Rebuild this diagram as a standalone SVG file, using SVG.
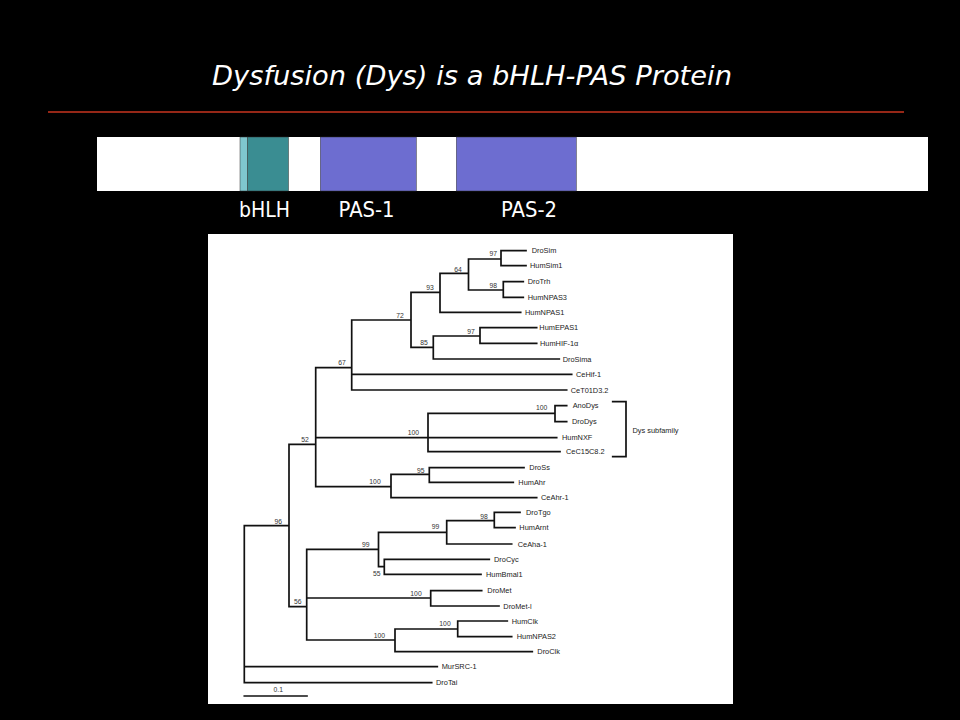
<svg xmlns="http://www.w3.org/2000/svg" width="960" height="720" viewBox="0 0 960 720">
<style>
.title{font-family:"DejaVu Sans",Verdana,sans-serif;font-style:italic;font-size:27px;fill:#ffffff}
.dom{font-family:"DejaVu Sans",Verdana,sans-serif;font-size:20.5px;fill:#ffffff;text-anchor:middle}
.br{fill:none;stroke:#111;stroke-width:1.7;stroke-linecap:square}
.leaf{font-family:"Liberation Sans",Arial,sans-serif;font-size:7.4px;fill:#222}
.bs{font-family:"Liberation Sans",Arial,sans-serif;font-size:6.8px;fill:#333;text-anchor:middle}
</style>
<rect x="0" y="0" width="960" height="720" fill="#000"/>
<g id="title">
<text class="title" x="212" y="85" textLength="520" lengthAdjust="spacingAndGlyphs">Dysfusion (Dys) is a bHLH-PAS Protein</text>
<line x1="48" y1="112" x2="904" y2="112" stroke="#c8341f" stroke-width="1.3"/>
</g>
<g id="protein">
<rect x="97" y="137" width="831" height="54" fill="#fff"/>
<rect id="bhlh-basic" x="240" y="137" width="7.5" height="54" fill="#7fc7cf" stroke="#333" stroke-width="0.5"/>
<rect id="bhlh" x="247.5" y="137" width="41" height="54" fill="#3a8d92" stroke="#333" stroke-width="0.5"/>
<rect id="pas1" x="320.3" y="137" width="96" height="54" fill="#6d6dd0" stroke="#333" stroke-width="0.5"/>
<rect id="pas2" x="456.3" y="137" width="120" height="54" fill="#6d6dd0" stroke="#333" stroke-width="0.5"/>
<text class="dom" x="264.5" y="217" textLength="51" lengthAdjust="spacingAndGlyphs">bHLH</text>
<text class="dom" x="366.6" y="217" textLength="56" lengthAdjust="spacingAndGlyphs">PAS-1</text>
<text class="dom" x="529" y="217" textLength="56" lengthAdjust="spacingAndGlyphs">PAS-2</text>
</g>
<rect x="208" y="234" width="525" height="470" fill="#fff"/>
<g id="connectors">
<path class="br" d="M244.3 525.7 V682.7 M244.3 525.7 H289 M289 444.3 V606.7 M289 444.3 H315.7 M315.7 367.7 V486.7
M315.7 367.7 H351.7 M351.7 320 V390 M351.7 320 H411 M411 292.3 V347.3 M411 292.3 H440 M440 273.3 V312.3
M440 273.3 H468.5 M468.5 259 V290 M468.5 259 H501 M501 250.7 V265.7 M501 250.7 H526 M501 265.7 H526
M468.5 290 H503.3 M503.3 281.7 V297.3 M503.3 281.7 H523.3 M503.3 297.3 H523.3
M440 312.3 H520.7
M411 347.3 H433.3 M433.3 336 V359 M433.3 336 H480 M480 327.7 V343.3 M480 327.7 H536.7 M480 343.3 H536.7
M433.3 359 H559.3
M351.7 374.3 H571.7 M351.7 390 H566.7
M315.7 437.7 H428 M428 413.3 V451.7 M428 413.3 H555 M555 405.7 V421.7 M555 405.7 H566.7 M555 421.7 H566.7
M428 437.7 H556.7 M428 451.7 H560
M315.7 486.7 H391 M391 474.3 V497.7 M391 474.3 H429.3 M429.3 467.7 V482.3 M429.3 467.7 H524 M429.3 482.3 H513.3
M391 497.7 H536.7
M289 606.7 H306.7 M306.7 549.3 V640
M306.7 549.3 H378.5 M378.5 532.3 V566.7 M378.5 532.3 H446.7 M446.7 520.7 V544 M446.7 520.7 H494.3
M494.3 512.3 V527.7 M494.3 512.3 H520 M494.3 527.7 H515 M446.7 544 H511.7
M378.5 566.7 H384.3 M384.3 559.3 V574.3 M384.3 559.3 H489.3 M384.3 574.3 H481
M306.7 598 H430.7 M430.7 590.7 V606 M430.7 590.7 H481.7 M430.7 606 H499
M306.7 640 H395 M395 629 V651.7 M395 629 H457.7 M457.7 621 V636.7 M457.7 621 H507.3 M457.7 636.7 H511.7
M395 651.7 H532.3
M244.3 666.7 H437.3 M244.3 682.7 H431.7"/>
<path class="br" d="M612.7 401.7 H626 V456.7 H612.7"/>
<path class="br" d="M244.3 696 H307"/>
</g>
<g id="leaves">
<text class="leaf" x="531.7" y="253.2">DroSim</text>
<text class="leaf" x="530" y="268.2">HumSim1</text>
<text class="leaf" x="527.7" y="284.2">DroTrh</text>
<text class="leaf" x="527.7" y="299.8">HumNPAS3</text>
<text class="leaf" x="525" y="314.8">HumNPAS1</text>
<text class="leaf" x="539.3" y="330.2">HumEPAS1</text>
<text class="leaf" x="540" y="345.8">HumHIF-1α</text>
<text class="leaf" x="562.7" y="361.5">DroSima</text>
<text class="leaf" x="576" y="376.8">CeHif-1</text>
<text class="leaf" x="570.7" y="392.5">CeT01D3.2</text>
<text class="leaf" x="572.7" y="408.2">AnoDys</text>
<text class="leaf" x="572" y="424.2">DroDys</text>
<text class="leaf" x="562" y="440.2">HumNXF</text>
<text class="leaf" x="566" y="453.5">CeC15C8.2</text>
<text class="leaf" x="632.5" y="432.5">Dys subfamily</text>
<text class="leaf" x="529.3" y="470.2">DroSs</text>
<text class="leaf" x="518.3" y="484.8">HumAhr</text>
<text class="leaf" x="541" y="500.2">CeAhr-1</text>
<text class="leaf" x="526" y="514.8">DroTgo</text>
<text class="leaf" x="519.3" y="530.2">HumArnt</text>
<text class="leaf" x="517.7" y="546.5">CeAha-1</text>
<text class="leaf" x="494" y="561.8">DroCyc</text>
<text class="leaf" x="486" y="576.8">HumBmal1</text>
<text class="leaf" x="487.3" y="593.2">DroMet</text>
<text class="leaf" x="503.3" y="608.5">DroMet-l</text>
<text class="leaf" x="511.7" y="623.5">HumClk</text>
<text class="leaf" x="516.7" y="639.2">HumNPAS2</text>
<text class="leaf" x="537.3" y="654.2">DroClk</text>
<text class="leaf" x="441.7" y="669.2">MurSRC-1</text>
<text class="leaf" x="436" y="685.2">DroTai</text>
</g>
<g id="bootstrap">
<text class="bs" x="493.3" y="255.8">97</text>
<text class="bs" x="458" y="271.5">64</text>
<text class="bs" x="493.3" y="287.5">98</text>
<text class="bs" x="430" y="289.5">93</text>
<text class="bs" x="400" y="317.5">72</text>
<text class="bs" x="471" y="333.5">97</text>
<text class="bs" x="424" y="345.2">85</text>
<text class="bs" x="342" y="365.2">67</text>
<text class="bs" x="541.7" y="410.2">100</text>
<text class="bs" x="413.3" y="434.8">100</text>
<text class="bs" x="305" y="441.5">52</text>
<text class="bs" x="420.7" y="472.5">95</text>
<text class="bs" x="375" y="483.8">100</text>
<text class="bs" x="484" y="518.5">98</text>
<text class="bs" x="278.3" y="523.5">96</text>
<text class="bs" x="435.5" y="529.2">99</text>
<text class="bs" x="365.7" y="547">99</text>
<text class="bs" x="376.7" y="575.8">55</text>
<text class="bs" x="416" y="595.8">100</text>
<text class="bs" x="297.7" y="603.5">56</text>
<text class="bs" x="445" y="626.2">100</text>
<text class="bs" x="379.3" y="638.2">100</text>
<text class="bs" x="278.3" y="691.5">0.1</text>
</g>
</svg>
